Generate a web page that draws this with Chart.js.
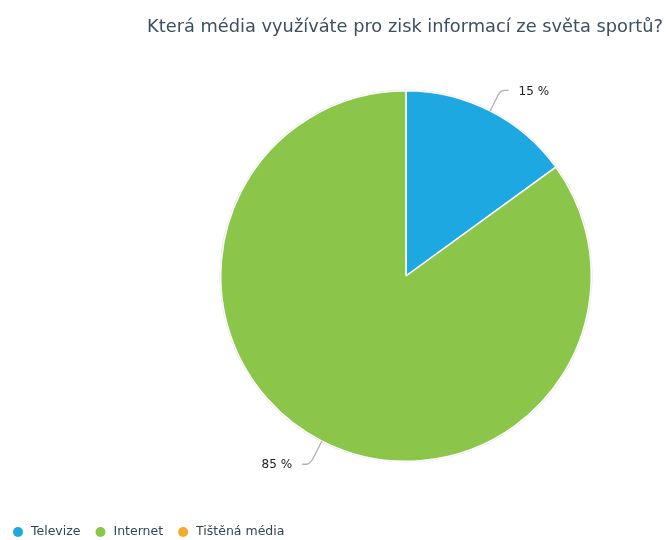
<!DOCTYPE html>
<html>
<head>
<meta charset="utf-8">
<script src="https://cdn.jsdelivr.net/npm/chart.js@4/dist/chart.umd.min.js"></script>
<style>
html,body{margin:0;padding:0;background:#fff;}
#wrap{position:relative;width:666px;height:540px;}
</style>
</head>
<body>
<div id="wrap"><canvas id="c" width="666" height="540"></canvas></div>
<script>
const titleText = "Která média využíváte pro zisk informací ze světa sportů?";
const categories = ["Televize", "Internet", "Tištěná média"];
const values = [15, 85, 0];
const valueLabels = ["15 %", "85 %", "0 %"];
const colors = ["#1ea8e1", "#8bc54a", "#f7a928"];

const overlay = {
  id: 'overlay',
  beforeDatasetsDraw(chart) {
    const ctx = chart.ctx;
    const arc = chart.getDatasetMeta(0).data[0];
    if (!arc) return;
    ctx.save();
    ctx.beginPath();
    ctx.arc(arc.x, arc.y, arc.outerRadius + 1.2, 0, Math.PI * 2);
    ctx.fillStyle = '#e2e2e2';
    ctx.fill();
    ctx.restore();
  },
  afterDraw(chart) {
    const ctx = chart.ctx;
    ctx.save();
    // title
    ctx.font = '17.8px "DejaVu Sans"';
    ctx.fillStyle = '#3d4f63';
    ctx.textAlign = 'center';
    ctx.textBaseline = 'middle';
    ctx.fillText(titleText, 405, 27);

    // value labels with leader lines
    const meta = chart.getDatasetMeta(0);
    meta.data.forEach((a, i) => {
      if (!values[i]) return;
      const mid = (a.startAngle + a.endAngle) / 2;
      const cx = a.x, cy = a.y, r = a.outerRadius;
      const cos = Math.cos(mid), sin = Math.sin(mid);
      const x0 = cx + r * cos, y0 = cy + r * sin;
      const ext = sin > 0 ? 26 : 23;
      const x1 = cx + (r + ext) * cos, y1 = cy + (r + ext) * sin;
      const dir = cos >= 0 ? 1 : -1;
      const xa = x0 + (x1 - x0) * 0.75, ya = y0 + (y1 - y0) * 0.75;
      const x2 = x1 + dir * 8;
      ctx.beginPath();
      ctx.moveTo(x0, y0);
      ctx.lineTo(xa, ya);
      ctx.quadraticCurveTo(x1, y1, x1 + dir * 4, y1);
      ctx.lineTo(x2, y1);
      ctx.strokeStyle = '#b0b0b0';
      ctx.lineWidth = 1.3;
      ctx.stroke();
      ctx.font = '12px "DejaVu Sans"';
      ctx.fillStyle = '#222222';
      ctx.textBaseline = 'middle';
      ctx.textAlign = dir > 0 ? 'left' : 'right';
      ctx.fillText(valueLabels[i], x2 + dir * 10, y1 + 1);
    });

    // legend
    ctx.font = '12.5px "DejaVu Sans"';
    ctx.textAlign = 'left';
    ctx.textBaseline = 'middle';
    let x = 13;
    const y = 532;
    categories.forEach((c, i) => {
      ctx.beginPath();
      ctx.arc(x + 5, y, 5, 0, Math.PI * 2);
      ctx.fillStyle = colors[i];
      ctx.fill();
      ctx.fillStyle = '#34465a';
      ctx.fillText(c, x + 18, y);
      x += 18 + ctx.measureText(c).width + 15;
    });
    ctx.restore();
  }
};

new Chart(document.getElementById('c'), {
  type: 'pie',
  data: {
    labels: categories,
    datasets: [{
      data: values,
      backgroundColor: colors,
      borderColor: '#ffffff',
      borderWidth: 1.5,
      hoverOffset: 0
    }]
  },
  options: {
    responsive: false,
    animation: false,
    layout: { padding: { left: 220, right: 74, top: 90, bottom: 78 } },
    plugins: {
      legend: { display: false },
      title: { display: false },
      tooltip: { enabled: false }
    }
  },
  plugins: [overlay]
});
</script>
</body>
</html>
